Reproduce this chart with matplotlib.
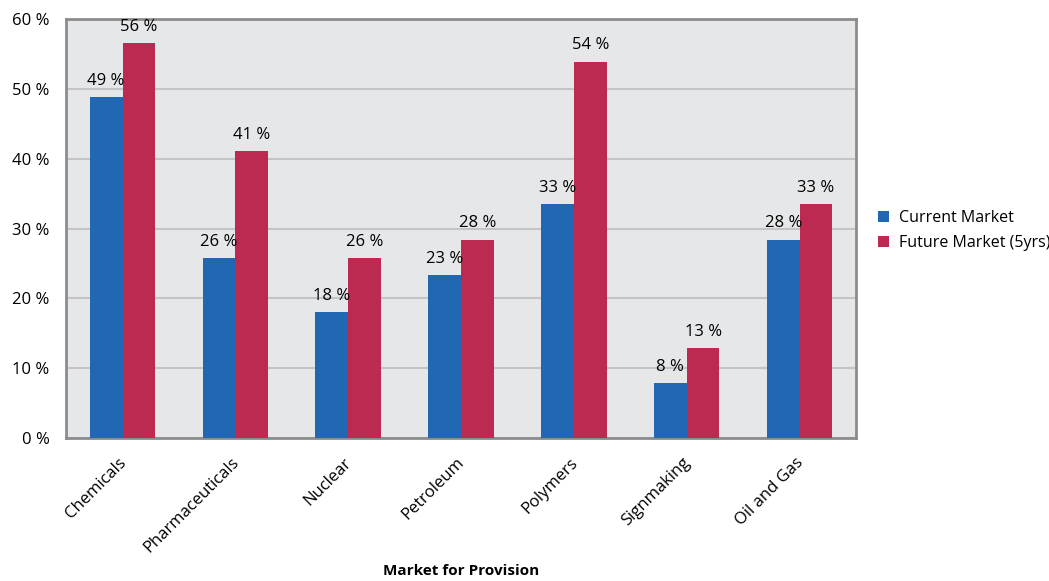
import numpy as np
import matplotlib.pyplot as plt

plt.rcParams['font.family'] = ['Open Sans', 'DejaVu Sans']

categories = ["Chemicals", "Pharmaceuticals", "Nuclear", "Petroleum",
              "Polymers", "Signmaking", "Oil and Gas"]
current = [48.8, 25.8, 18.0, 23.3, 33.5, 7.9, 28.4]
future = [56.6, 41.1, 25.8, 28.4, 53.9, 12.9, 33.5]
current_labels = [49, 26, 18, 23, 33, 8, 28]
future_labels = [56, 41, 26, 28, 54, 13, 33]
yticks = [0, 10, 20, 30, 40, 50, 60]

blue = "#2167b1"
red = "#bc2951"

fig = plt.figure(figsize=(10.49, 5.81), dpi=100)
ax = fig.add_axes([0.063, 0.246, 0.753, 0.721])
ax.set_facecolor("#e6e7e9")

x = np.arange(len(categories))
w = 0.29
ax.bar(x - w / 2, current, w, color=blue, label="Current Market", zorder=3)
ax.bar(x + w / 2, future, w, color=red, label="Future Market (5yrs)", zorder=3)

for i in range(len(categories)):
    ax.text(x[i] - w / 2, current[i] + 1.2, f"{current_labels[i]} %",
            ha="center", va="bottom", fontsize=12, zorder=4)
    ax.text(x[i] + w / 2, future[i] + 1.2, f"{future_labels[i]} %",
            ha="center", va="bottom", fontsize=12, zorder=4)

ax.set_xlim(-0.5, len(categories) - 0.5)
ax.set_ylim(0, 60)
ax.set_yticks(yticks)
ax.set_yticklabels([f"{v} %" for v in yticks], fontsize=12)
ax.set_xticks(x - 0.04)
ax.set_xticklabels(categories, rotation=45, ha="right", rotation_mode="anchor",
                   fontsize=12)
ax.tick_params(axis="y", length=0, pad=12)
ax.tick_params(axis="x", length=0, pad=12)
ax.grid(axis="y", color="#c4c4c6", linewidth=1.5, zorder=0)
for s in ax.spines.values():
    s.set_color("#8c8c8e")
    s.set_linewidth(2)

ax.set_xlabel("Market for Provision", fontsize=11, fontweight="bold")
ax.xaxis.set_label_coords(0.5, -0.30)

ax.legend(loc="center left", bbox_to_anchor=(1.01, 0.495), frameon=False,
          fontsize=11.5, handlelength=0.7, handleheight=0.7, handletextpad=0.6,
          labelspacing=0.55)

fig.savefig("out.png", dpi=100)
